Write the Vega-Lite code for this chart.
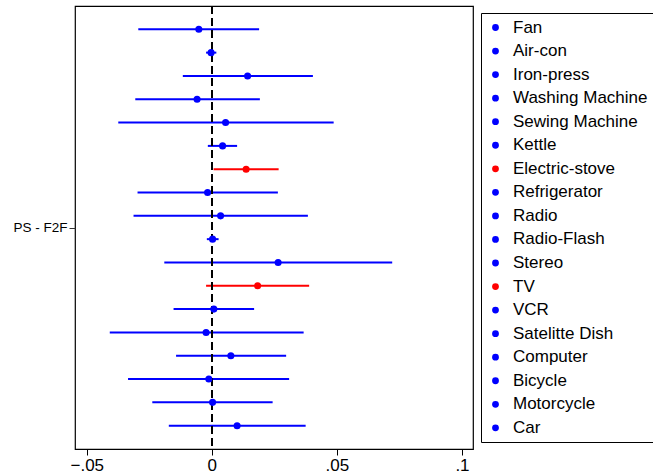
{
  "$schema": "https://vega.github.io/schema/vega-lite/v6.json",
  "width": 398,
  "height": 443,
  "autosize": {"type": "none"},
  "padding": {"left": 75, "top": 6, "right": 180, "bottom": 25},
  "background": "white",
  "config": {
    "view": {"stroke": "black", "strokeWidth": 1.2},
    "font": "Liberation Sans",
    "axis": {"labelFont": "Liberation Sans", "labelColor": "black", "tickColor": "black", "domain": false, "grid": false},
    "legend": {
      "title": null, "orient": "none", "legendX": 406, "legendY": 7,
      "symbolType": "circle", "symbolSize": 28, "labelFontSize": 17, "labelFont": "Liberation Sans", "labelColor": "black",
      "rowPadding": 5.55, "padding": 6, "strokeColor": "black", "fillColor": "white", "labelOffset": 9, "labelLimit": 300, "symbolOffset": 0
    }
  },
  "datasets": {
    "est": [
      {"item": "Fan", "est": -0.0052, "lo": -0.0294, "hi": 0.0189},
      {"item": "Air-con", "est": -0.0003, "lo": -0.0023, "hi": 0.0018},
      {"item": "Iron-press", "est": 0.0143, "lo": -0.0116, "hi": 0.0404},
      {"item": "Washing Machine", "est": -0.0059, "lo": -0.0306, "hi": 0.0192},
      {"item": "Sewing Machine", "est": 0.0055, "lo": -0.0374, "hi": 0.0487},
      {"item": "Kettle", "est": 0.0043, "lo": -0.0016, "hi": 0.0101},
      {"item": "Electric-stove", "est": 0.0137, "lo": 0.0007, "hi": 0.0267},
      {"item": "Refrigerator", "est": -0.0017, "lo": -0.0297, "hi": 0.0264},
      {"item": "Radio", "est": 0.0035, "lo": -0.0313, "hi": 0.0384},
      {"item": "Radio-Flash", "est": 0.0003, "lo": -0.002, "hi": 0.0027},
      {"item": "Stereo", "est": 0.0265, "lo": -0.019, "hi": 0.0721},
      {"item": "TV", "est": 0.0183, "lo": -0.0023, "hi": 0.0389},
      {"item": "VCR", "est": 0.0008, "lo": -0.0153, "hi": 0.0169},
      {"item": "Satelitte Dish", "est": -0.0023, "lo": -0.0408, "hi": 0.0367},
      {"item": "Computer", "est": 0.0076, "lo": -0.0143, "hi": 0.0297},
      {"item": "Bicycle", "est": -0.0012, "lo": -0.0335, "hi": 0.0309},
      {"item": "Motorcycle", "est": 0.0003, "lo": -0.0238, "hi": 0.0243},
      {"item": "Car", "est": 0.0101, "lo": -0.0172, "hi": 0.0375}
    ],
    "grp": [{"g": "PS - F2F"}]
  },
  "layer": [
    {
      "data": {"name": "est"},
      "mark": {"type": "rule", "strokeWidth": 2},
      "encoding": {
        "x": {"field": "lo", "type": "quantitative"},
        "x2": {"field": "hi"},
        "y": {"field": "item", "type": "nominal", "sort": null, "scale": {"type": "point", "padding": 1}, "axis": null},
        "color": {
          "field": "item", "type": "nominal", "sort": null,
          "scale": {
            "domain": ["Fan","Air-con","Iron-press","Washing Machine","Sewing Machine","Kettle","Electric-stove","Refrigerator","Radio","Radio-Flash","Stereo","TV","VCR","Satelitte Dish","Computer","Bicycle","Motorcycle","Car"],
            "range": ["#0000ff","#0000ff","#0000ff","#0000ff","#0000ff","#0000ff","#ff0000","#0000ff","#0000ff","#0000ff","#0000ff","#ff0000","#0000ff","#0000ff","#0000ff","#0000ff","#0000ff","#0000ff"]
          }
        }
      }
    },
    {
      "data": {"name": "est"},
      "mark": {"type": "rule", "color": "black", "strokeWidth": 1.5, "strokeDash": [8, 4]},
      "encoding": {"x": {"datum": 0, "type": "quantitative"}}
    },
    {
      "data": {"name": "est"},
      "mark": {"type": "point", "filled": true, "size": 50, "opacity": 1},
      "encoding": {
        "x": {
          "field": "est", "type": "quantitative",
          "scale": {"domain": [-0.0547, 0.1044], "nice": false, "zero": false},
          "axis": {"values": [-0.05, 0, 0.05, 0.1], "title": null, "labelFontSize": 17, "tickSize": 6, "labelPadding": 2, "labelExpr": "replace(format(datum.value, '.2~f'), '0.', '.')"}
        },
        "y": {"field": "item", "type": "nominal", "sort": null, "scale": {"type": "point", "padding": 1}, "axis": null},
        "color": {"field": "item", "type": "nominal", "sort": null}
      }
    },
    {
      "data": {"name": "grp"},
      "mark": {"type": "point", "opacity": 0},
      "encoding": {
        "y": {"field": "g", "type": "nominal", "scale": {"type": "point", "padding": 1}, "axis": {"orient": "left", "title": null, "labelFontSize": 13.5, "tickSize": 6, "labelPadding": 2, "tickColor": "#333333"}}
      }
    }
  ],
  "resolve": {"scale": {"y": "independent"}, "axis": {"y": "independent"}}
}
